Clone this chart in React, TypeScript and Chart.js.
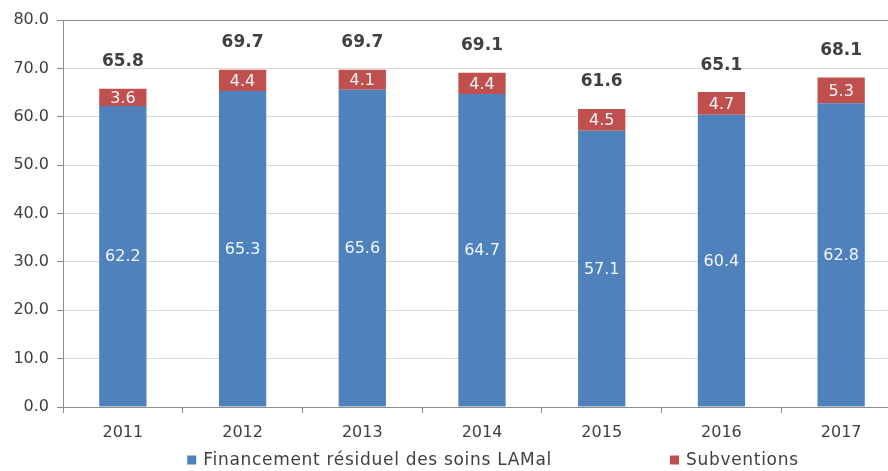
import React, { useEffect, useRef } from "react";
import { Chart, registerables } from "chart.js";

Chart.register(...registerables);

const years = ["2011", "2012", "2013", "2014", "2015", "2016", "2017"];
const financement = [62.2, 65.3, 65.6, 64.7, 57.1, 60.4, 62.8];
const subventions = [3.6, 4.4, 4.1, 4.4, 4.5, 4.7, 5.3];
const totals = [65.8, 69.7, 69.7, 69.1, 61.6, 65.1, 68.1];
const seriesNames = ["Financement résiduel des soins LAMal", "Subventions"];
const seriesColors = ["#4f81bd", "#c0504d"];

const FONT = "'DejaVu Sans', Verdana, sans-serif";
const TEXT = "#404040";

const labelsPlugin = {
  id: "customLabels",
  afterDatasetsDraw(chart: any) {
    const ctx = chart.ctx;
    ctx.save();
    ctx.textAlign = "center";
    ctx.textBaseline = "middle";
    chart.data.datasets.forEach((ds: any, di: number) => {
      const meta = chart.getDatasetMeta(di);
      meta.data.forEach((bar: any, i: number) => {
        const { x, y, base } = bar.getProps(["x", "y", "base"], true);
        ctx.font = `16px ${FONT}`;
        ctx.fillStyle = "#f3f6fb";
        ctx.fillText(Number(ds.data[i]).toFixed(1), x, (y + base) / 2 + 1);
      });
    });
    const topMeta = chart.getDatasetMeta(chart.data.datasets.length - 1);
    ctx.font = `bold 17px ${FONT}`;
    ctx.fillStyle = TEXT;
    topMeta.data.forEach((bar: any, i: number) => {
      ctx.fillText(totals[i].toFixed(1), bar.x, bar.y - 27);
    });
    ctx.restore();
  },
  afterDraw(chart: any) {
    const ctx = chart.ctx;
    ctx.save();
    ctx.font = `17px ${FONT}`;
    try {
      (ctx as any).letterSpacing = "0.7px";
    } catch (e) {}
    ctx.textBaseline = "middle";
    ctx.textAlign = "left";
    const box = 9;
    const gapBoxText = 7;
    const gap = 118;
    const widths = seriesNames.map((n) => box + gapBoxText + ctx.measureText(n).width);
    const total = widths.reduce((a, b) => a + b, 0) + gap * (widths.length - 1);
    let x = 493 - total / 2;
    const cy = 460;
    seriesNames.forEach((n, i) => {
      ctx.fillStyle = seriesColors[i];
      ctx.fillRect(x, cy - box / 2, box, box);
      ctx.fillStyle = TEXT;
      ctx.fillText(n, x + box + gapBoxText, cy + 1);
      x += widths[i] + gap;
    });
    ctx.restore();
  },
};

export default function App() {
  const ref = useRef<HTMLCanvasElement | null>(null);

  useEffect(() => {
    if (!ref.current) return;
    const chart = new Chart(ref.current, {
      type: "bar",
      data: {
        labels: years,
        datasets: [
          {
            label: seriesNames[0],
            data: financement,
            backgroundColor: seriesColors[0],
            barPercentage: 0.395,
            categoryPercentage: 1,
          },
          {
            label: seriesNames[1],
            data: subventions,
            backgroundColor: seriesColors[1],
            barPercentage: 0.395,
            categoryPercentage: 1,
          },
        ],
      },
      options: {
        responsive: false,
        animation: false,
        devicePixelRatio: 1,
        layout: { padding: { top: 20, right: 4, bottom: 30, left: 0 } },
        plugins: {
          legend: { display: false },
          tooltip: { enabled: false },
        },
        scales: {
          x: {
            stacked: true,
            grid: {
              display: true,
              drawOnChartArea: false,
              drawTicks: true,
              tickLength: 6,
              offset: true,
              color: "#8c8c8c",
            },
            border: { color: "#8c8c8c", width: 1 },
            ticks: {
              color: TEXT,
              font: { family: FONT, size: 16 },
              padding: 10,
            },
            afterFit(scale: any) {
              scale.height = 34;
            },
          },
          y: {
            stacked: true,
            min: 0,
            max: 80,
            ticks: {
              stepSize: 10,
              color: TEXT,
              font: { family: FONT, size: 16 },
              padding: 8,
              callback: (v: any) => Number(v).toFixed(1),
            },
            grid: {
              color: (c: any) => (c.tick && c.tick.value === 80 ? "#8c8c8c" : "#d9d9d9"),
              tickColor: "#8c8c8c",
              tickLength: 6,
              lineWidth: 1,
            },
            border: { color: "#8c8c8c", width: 1 },
            afterFit(scale: any) {
              scale.width = 63;
            },
          },
        },
      },
      plugins: [labelsPlugin],
    });
    return () => chart.destroy();
  }, []);

  return (
    <div
      style={{
        position: "absolute",
        left: 0,
        top: 0,
        width: 888,
        height: 471,
        overflow: "hidden",
        background: "#fff",
      }}
    >
      <canvas ref={ref} width={905} height={471} style={{ display: "block" }} />
    </div>
  );
}
